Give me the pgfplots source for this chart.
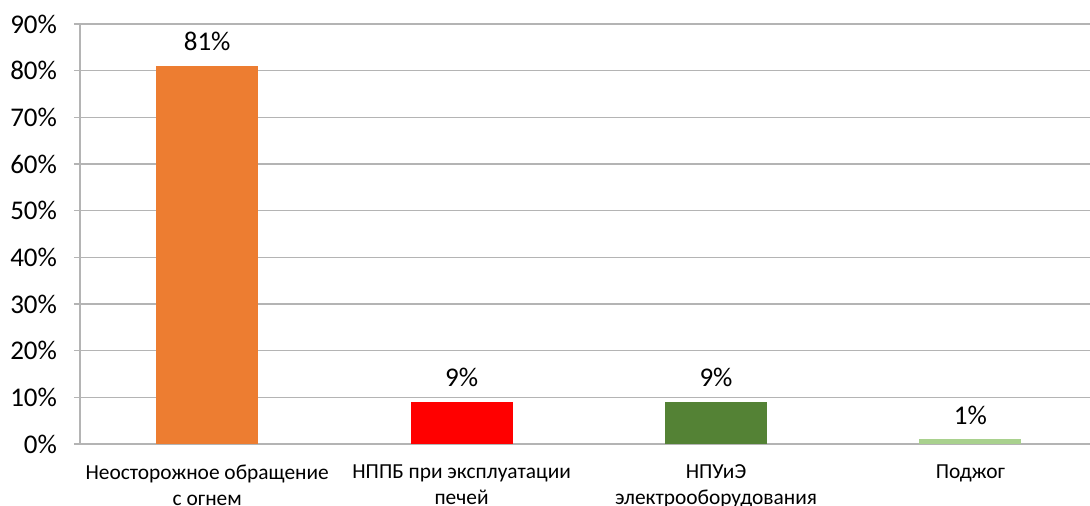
\documentclass[border=0pt]{standalone}
\usepackage{fontspec}
\setmainfont{Carlito}
\usepackage{pgfplots}
\pgfplotsset{compat=1.18}

\definecolor{cOrange}{HTML}{ED7D31}
\definecolor{cRed}{HTML}{FF0000}
\definecolor{cGreen}{HTML}{548235}
\definecolor{cLight}{HTML}{A9D18E}
\definecolor{gridgray}{HTML}{B4B4B4}

\begin{document}
\begin{tikzpicture}
\begin{axis}[
  at={(0,0)}, anchor=south west,
  scale only axis, width=505pt, height=210pt,
  ymin=0, ymax=90, xmin=-0.5, xmax=3.47,
  axis x line*=bottom, axis y line*=left,
  axis line style={gridgray, line width=0.8pt},
  ytick={0,10,...,90},
  yticklabel={\pgfmathprintnumber[assume math mode=true]{\tick}\%},
  yticklabel style={font=\fontsize{13.5}{15}\selectfont, text=black, xshift=-5pt},
  ymajorgrids, grid style={gridgray, line width=0.8pt},
  major tick length=3pt,
  every tick/.style={gridgray, line width=0.8pt},
  ytick style={gridgray}, tick align=outside,
  xtick={0,1,2,3},
  xtick style={draw=none},
  xticklabels={{Неосторожное обращение\\с огнем},{НППБ при эксплуатации\\печей},{НПУиЭ\\электрооборудования},{Поджог}},
  xticklabel style={font=\fontsize{10.7}{13}\selectfont, align=center, text=black, yshift=-4pt},
  extra x ticks={0.5,1.5,2.5},
  extra x tick labels={},
  extra x tick style={grid=none, tick style={draw=gridgray, line width=0.8pt}, major tick length=3pt},
  ybar, bar width=51pt, bar shift=0pt,
  nodes near coords={\pgfmathprintnumber[assume math mode=true]{\pgfplotspointmeta}\%},
  every node near coord/.append style={font=\fontsize{13.5}{15}\selectfont, text=black, anchor=south, yshift=4pt},
  clip=false,
]
\addplot[draw=none, fill=cOrange] coordinates {(0,81)};
\addplot[draw=none, fill=cRed] coordinates {(1,9)};
\addplot[draw=none, fill=cGreen] coordinates {(2,9)};
\addplot[draw=none, fill=cLight] coordinates {(3,1)};
\end{axis}
\pgfresetboundingbox
\path[use as bounding box] (-40pt,-31pt) rectangle (505pt,222pt);
\end{tikzpicture}
\end{document}
